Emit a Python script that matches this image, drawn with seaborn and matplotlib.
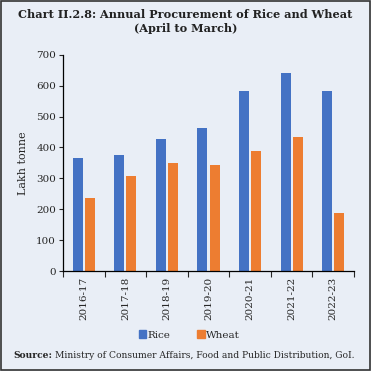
import pandas as pd
import numpy as np
import seaborn as sns
import matplotlib.pyplot as plt
from matplotlib.patches import Rectangle

years = ["2016-17", "2017-18", "2018-19", "2019-20", "2020-21", "2021-22", "2022-23"]
rice = [365, 376, 427, 462, 582, 640, 581]
wheat = [236, 306, 350, 342, 390, 434, 188]

df = pd.DataFrame({"year": years * 2,
                   "value": rice + wheat,
                   "crop": ["Rice"] * len(years) + ["Wheat"] * len(years)})

bg = "#E9EEF6"
sns.set_style("ticks")
plt.rcParams["font.family"] = ["DejaVu Serif"]

fig = plt.figure(figsize=(3.71, 3.71), dpi=100, facecolor=bg)
ax = fig.add_axes([0.170, 0.2695, 0.784, 0.583])
ax.set_facecolor(bg)

sns.barplot(data=df, x="year", y="value", hue="crop", ax=ax,
            palette={"Rice": "#4472C4", "Wheat": "#ED7D31"},
            width=0.58, gap=0.17, saturation=1, legend=False, linewidth=0)

ax.set_ylim(0, 700)
ax.set_yticks(range(0, 701, 100))
ax.set_xlim(-0.5, len(years) - 0.5)
ax.set_xlabel("")
ax.set_ylabel("Lakh tonne", fontsize=8, labelpad=6)
ax.tick_params(axis="y", labelsize=7.5, length=3, width=0.8, direction="out", pad=2)
ax.tick_params(axis="x", which="major", labelsize=7.5, length=0, rotation=90, pad=4)
ax.set_xticks(np.arange(-0.5, len(years)), minor=True)
ax.tick_params(axis="x", which="minor", length=4, width=0.8, direction="out")
for s in ["top", "right"]:
    ax.spines[s].set_visible(False)
for s in ["left", "bottom"]:
    ax.spines[s].set_linewidth(0.9)
    ax.spines[s].set_color("black")

fig.text(0.5, 0.962, "Chart II.2.8: Annual Procurement of Rice and Wheat",
         ha="center", va="center", fontsize=8.1, fontweight="bold", color="#222222")
fig.text(0.5, 0.922, "(April to March)", ha="center", va="center",
         fontsize=8.1, fontweight="bold", color="#222222")

# legend
handles = [Rectangle((0, 0), 1, 1, color="#4472C4"), Rectangle((0, 0), 1, 1, color="#ED7D31")]
fig.legend(handles, ["Rice", "Wheat"], loc="center", bbox_to_anchor=(0.51, 0.097),
           ncol=2, frameon=False, fontsize=7.5, handlelength=0.7, handleheight=0.7,
           handletextpad=0.1, columnspacing=2.6)

# source line: bold label followed by normal text
src = fig.text(0.035, 0.043, "Source:", ha="left", va="center", fontsize=6.6, fontweight="bold")
fig.canvas.draw()
bb = src.get_window_extent().transformed(fig.transFigure.inverted())
fig.text(bb.x1 + 0.008, 0.043, "Ministry of Consumer Affairs, Food and Public Distribution, GoI.",
         ha="left", va="center", fontsize=6.6)

fig.patches.append(Rectangle((0.003, 0.003), 0.994, 0.994, transform=fig.transFigure,
                             fill=False, edgecolor="#333333", linewidth=1.2))

plt.savefig("out.png", dpi=100, facecolor=bg)
